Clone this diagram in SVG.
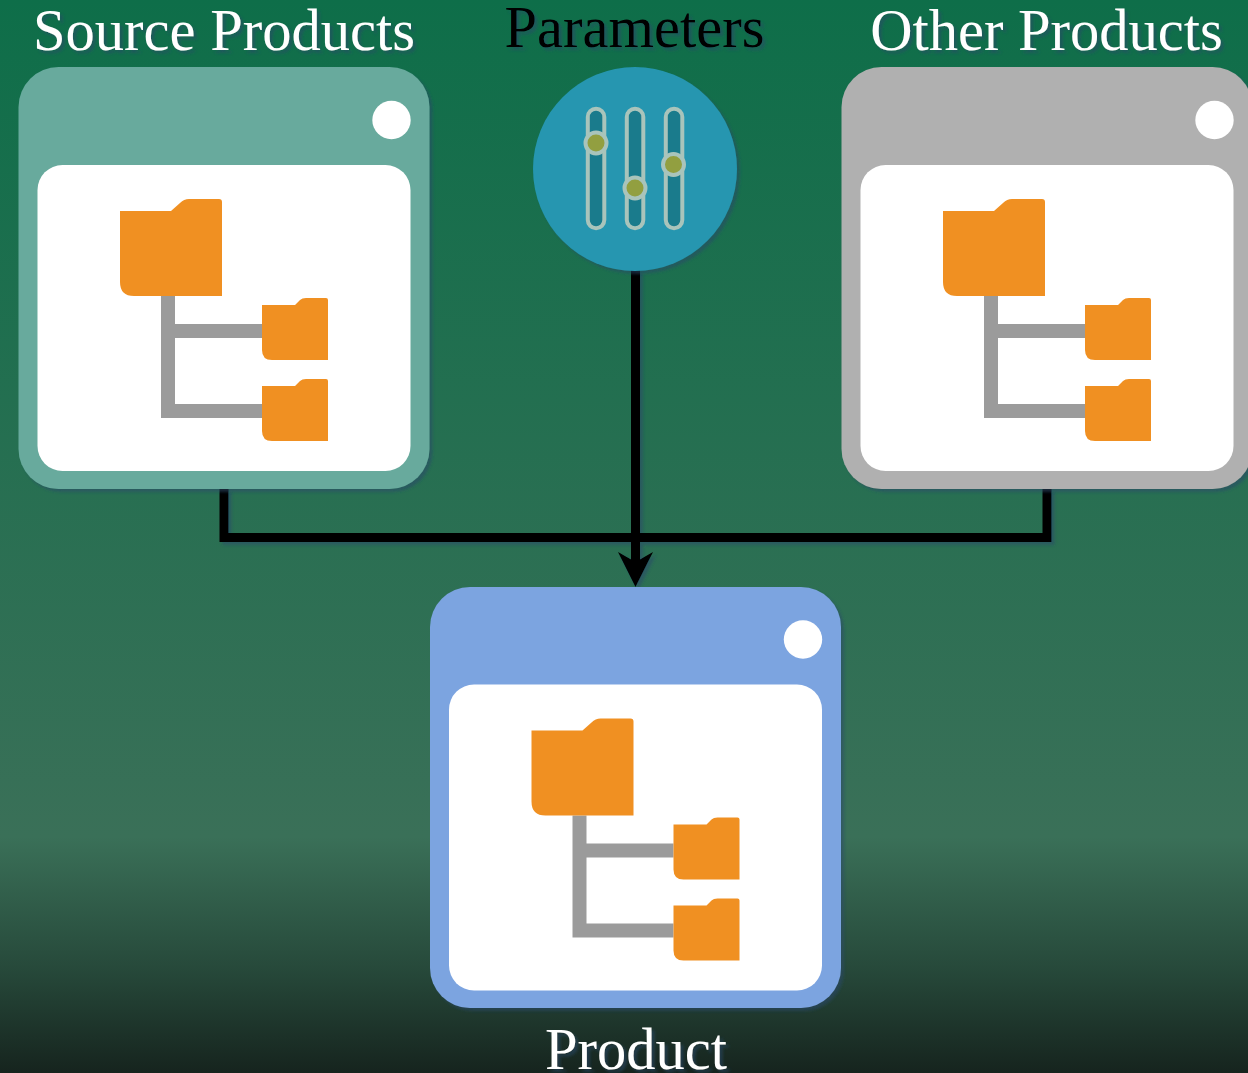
<svg xmlns="http://www.w3.org/2000/svg" width="1248" height="1073" viewBox="0 0 1248 1073">
  <style>
    .label { font-family: "Liberation Serif", "Times New Roman", serif; font-size: 58.5px; text-anchor: middle; filter: url(#shadow); }
    .white { fill: #ffffff; }
    .black { fill: #000000; }
    .inner { fill: #ffffff; }
    .folder { fill: #f09022; }
    .tree { fill: none; stroke: #9b9b9b; stroke-width: 14; }
    .link { fill: none; stroke: #000000; stroke-width: 9; }
    .track { fill: #1a7b8c; stroke: #a9c4bb; stroke-width: 4; }
    .knob { fill: #929f40; stroke: #a9c4bb; stroke-width: 4; }
  </style>
  <defs>
    <linearGradient id="bg" x1="0" y1="0" x2="0" y2="1">
      <stop offset="0" stop-color="#0e6e49"/>
      <stop offset="0.78" stop-color="#3a7058"/>
      <stop offset="0.9" stop-color="#274a3b"/>
      <stop offset="1" stop-color="#16241e"/>
    </linearGradient>
    <filter id="shadow" x="-10%" y="-10%" width="120%" height="120%">
      <feDropShadow dx="3" dy="3" stdDeviation="1.5" flood-color="#2b4a6b" flood-opacity="0.55"/>
    </filter>
    <g id="tree-icon">
      <path class="tree" d="M168 296V411H262M168 331H262"/>
      <path class="folder" d="M120 211H171L180 203Q184 199 189 199H219Q222 199 222 202V296H134Q120 296 120 282Z"/>
      <path class="folder" d="M262 305H295L300 300Q302 298 306 298H326Q328 298 328 300V360H272Q262 360 262 350Z"/>
      <path class="folder" d="M262 386H295L300 381Q302 379 306 379H326Q328 379 328 381V441H272Q262 441 262 431Z"/>
    </g>
    <g id="card-content">
      <rect class="inner" x="37.500" y="165" width="373" height="306" rx="25"/>
      <circle cx="391.500" cy="120" r="19.200" fill="#ffffff"/>
      <use href="#tree-icon"/>
    </g>
  </defs>

  <rect id="background" width="1248" height="1073" fill="url(#bg)"/>

  <g id="connectors" filter="url(#shadow)">
    <path class="link" d="M224 489V537.500H1047V489"/>
    <path class="link" d="M635.500 270V565"/>
    <path d="M635.500 587L618 552L635.500 562L653 552Z" fill="#000000"/>
  </g>

  <g id="source-products">
    <rect x="18.500" y="67" width="411" height="422" rx="40" fill="#67aa9d" filter="url(#shadow)"/>
    <use href="#card-content"/>
    <text class="label white" x="224" y="50">Source Products</text>
  </g>

  <g id="parameters">
    <circle cx="635" cy="169" r="102" fill="#2596b0" filter="url(#shadow)"/>
    <rect class="track" x="587.800" y="108.800" width="16.500" height="119.500" rx="8.200"/>
    <rect class="track" x="626.800" y="108.800" width="16.500" height="119.500" rx="8.200"/>
    <rect class="track" x="665.800" y="108.800" width="16.500" height="119.500" rx="8.200"/>
    <circle class="knob" cx="596" cy="143" r="10.500"/>
    <circle class="knob" cx="635" cy="188" r="10.500"/>
    <circle class="knob" cx="673.500" cy="164.500" r="10.500"/>
    <text class="label black" x="634.500" y="47">Parameters</text>
  </g>

  <g id="other-products">
    <rect x="841.500" y="67" width="411" height="422" rx="40" fill="#b0b0b0" filter="url(#shadow)"/>
    <use href="#card-content" x="823"/>
    <text class="label white" x="1046.500" y="50">Other Products</text>
  </g>

  <g id="product">
    <rect x="430" y="587" width="411" height="421" rx="40" fill="#7ca4e0" filter="url(#shadow)"/>
    <use href="#card-content" x="411.500" y="519.500"/>
    <text class="label white" x="636" y="1069">Product</text>
  </g>
</svg>
